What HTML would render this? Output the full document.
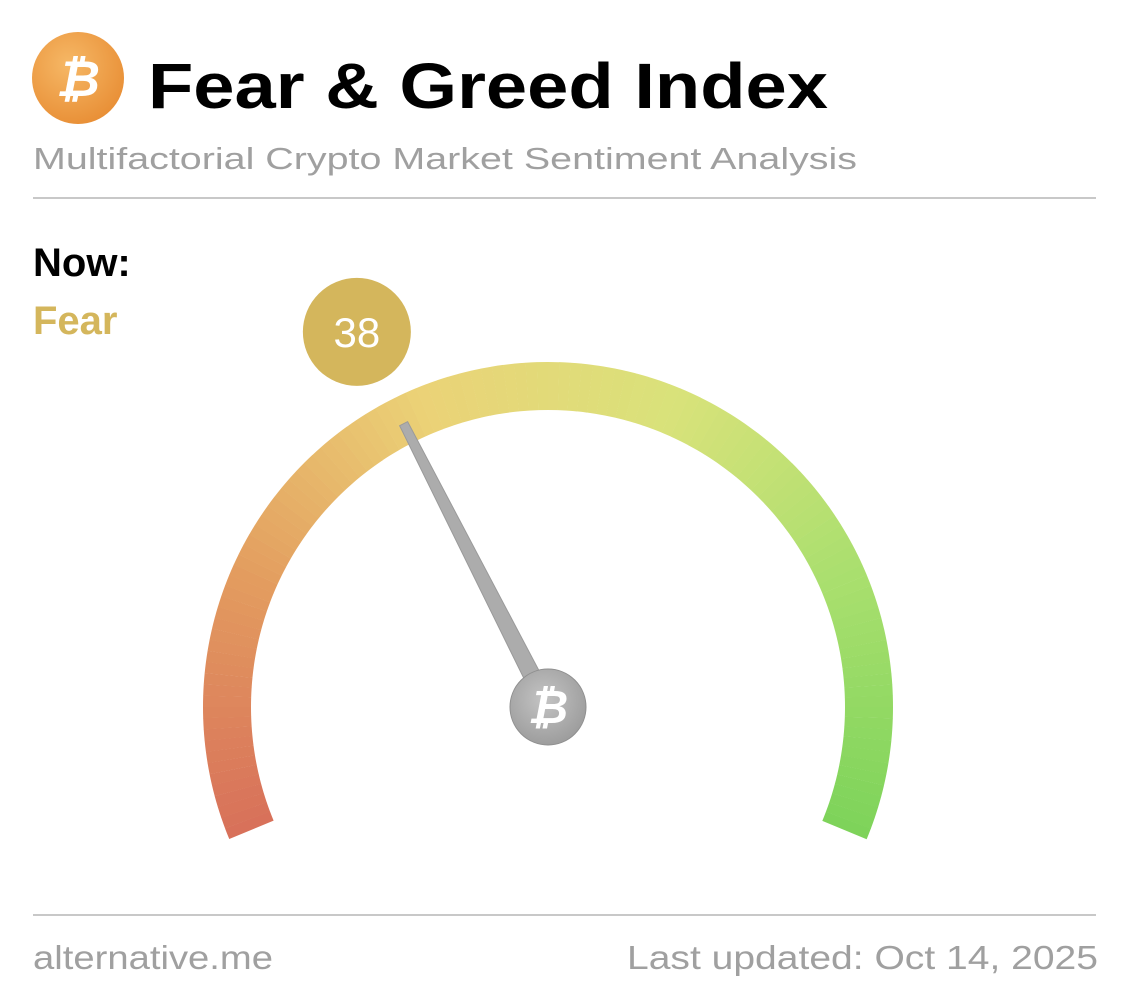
<!DOCTYPE html>
<html><head><meta charset="utf-8"><style>
html,body{margin:0;padding:0;background:#fff;width:1126px;height:1000px;overflow:hidden}
svg{display:block}
text{font-family:"Liberation Sans",sans-serif}
</style></head><body>
<svg id="chart" width="1126" height="1000" viewBox="0 0 1126 1000">
<defs>
<radialGradient id="logoG" cx="40%" cy="35%" r="70%"><stop offset="0" stop-color="#f6b866"/><stop offset="1" stop-color="#e88e35"/></radialGradient>
<radialGradient id="hubG" cx="45%" cy="40%" r="65%"><stop offset="0" stop-color="#c4c4c4"/><stop offset="1" stop-color="#9a9a9a"/></radialGradient>
</defs>
<g>
<circle cx="78" cy="78" r="46" fill="url(#logoG)"/>
<text x="78" y="96" text-anchor="middle" font-size="50" font-weight="bold" fill="#fff" font-style="italic">₿</text>
<text x="148" y="108" font-size="64" font-weight="bold" fill="#000" textLength="680" lengthAdjust="spacingAndGlyphs">Fear &amp; Greed Index</text>
<text x="33" y="169" font-size="31" fill="#a0a0a0" textLength="824" lengthAdjust="spacingAndGlyphs">Multifactorial Crypto Market Sentiment Analysis</text>
<rect x="33" y="197" width="1063" height="2" fill="#c8c8c8"/>
<text x="33" y="276" font-size="40" font-weight="bold" fill="#000">Now:</text>
<text x="33" y="334" font-size="40" font-weight="bold" fill="#d4b65c">Fear</text>
</g>
<g id="gauge"></g>
<g>
<rect x="33" y="914" width="1063" height="2" fill="#c8c8c8"/>
<text x="33" y="969" font-size="33" fill="#a0a0a0" textLength="240" lengthAdjust="spacingAndGlyphs">alternative.me</text>
<text x="627" y="969" font-size="33" fill="#a0a0a0" textLength="471" lengthAdjust="spacingAndGlyphs">Last updated: Oct 14, 2025</text>
</g>
</svg>
<script>
const indexValue = [38];
const scaleRange = [0, 100];
const colorStops = ['#d8715a','#e39c5f','#ebd277','#d9e27a','#a9df6e','#7ed35a'];
const NS='http://www.w3.org/2000/svg';
const g=document.getElementById('gauge');
const cx=548, cy=707, rMid=321, w=48, span=225;
function ang(v){return ((v-scaleRange[0])/(scaleRange[1]-scaleRange[0])-0.5)*span*Math.PI/180;}
function pt(a,r){return [cx+r*Math.sin(a), cy-r*Math.cos(a)];}
function hex(h){return [1,3,5].map(i=>parseInt(h.substr(i,2),16));}
function col(t){const n=colorStops.length-1;const i=Math.min(n-1,Math.floor(t*n));const f=t*n-i;const a=hex(colorStops[i]),b=hex(colorStops[i+1]);return 'rgb('+a.map((x,k)=>Math.round(x+(b[k]-x)*f)).join(',')+')';}
const N=120;
for(let i=0;i<N;i++){
  const a0=ang(i/N*100), a1=ang((i+1.02)/N*100);
  const p0=pt(a0,rMid+w/2),p1=pt(a1,rMid+w/2),p2=pt(a1,rMid-w/2),p3=pt(a0,rMid-w/2);
  const p=document.createElementNS(NS,'path');
  p.setAttribute('d',`M${p0}A${rMid+w/2},${rMid+w/2} 0 0 1 ${p1}L${p2}A${rMid-w/2},${rMid-w/2} 0 0 0 ${p3}Z`);
  p.setAttribute('fill',col(i/(N-1)));
  
  
  g.appendChild(p);
}
const v=indexValue[0], a=ang(v);
const tip=pt(a,318), perp=a+Math.PI/2;
const b1=[cx+9*Math.sin(perp),cy-9*Math.cos(perp)], b2=[cx-9*Math.sin(perp),cy+9*Math.cos(perp)];
const t1=[tip[0]+4.5*Math.sin(perp),tip[1]-4.5*Math.cos(perp)], t2=[tip[0]-4.5*Math.sin(perp),tip[1]+4.5*Math.cos(perp)];
const nd=document.createElementNS(NS,'polygon');
nd.setAttribute('points',[b1,t1,t2,b2].map(p=>p.join(',')).join(' '));
nd.setAttribute('fill','#acacac');nd.setAttribute('stroke','#9a9a9a');nd.setAttribute('stroke-width','1');


g.appendChild(nd);
const hub=document.createElementNS(NS,'circle');
hub.setAttribute('cx',cx);hub.setAttribute('cy',cy);hub.setAttribute('r',38);hub.setAttribute('fill','url(#hubG)');hub.setAttribute('stroke','#8f8f8f');


g.appendChild(hub);
const ht=document.createElementNS(NS,'text');
ht.setAttribute('x',cx);ht.setAttribute('y',cy+16);ht.setAttribute('text-anchor','middle');ht.setAttribute('font-size','46');ht.setAttribute('font-weight','bold');ht.setAttribute('font-style','italic');ht.setAttribute('fill','#fff');ht.textContent='₿';


g.appendChild(ht);
const bp=pt(a,421);
const bc=document.createElementNS(NS,'circle');
bc.setAttribute('cx',bp[0]);bc.setAttribute('cy',bp[1]);bc.setAttribute('r',54);bc.setAttribute('fill','#d4b65c');


g.appendChild(bc);
const bt=document.createElementNS(NS,'text');
bt.setAttribute('x',bp[0]);bt.setAttribute('y',bp[1]+15);bt.setAttribute('text-anchor','middle');bt.setAttribute('font-size','42');bt.setAttribute('fill','#fff');bt.textContent=String(v);


g.appendChild(bt);
</script>
</body></html>
